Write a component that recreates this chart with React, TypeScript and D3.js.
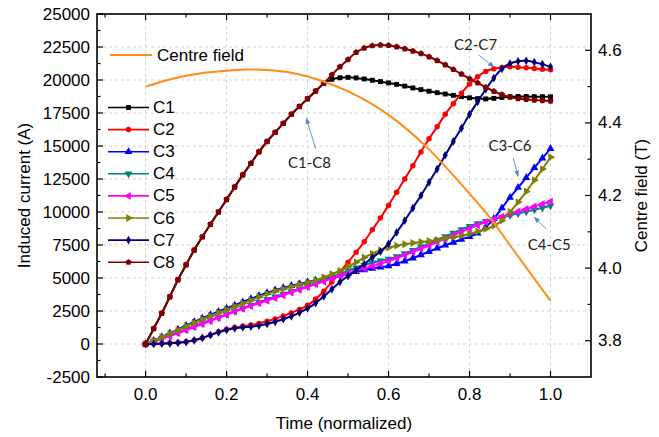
import React from 'react';
import * as d3 from 'd3';

// Sample times (normalized) for the coil currents
const time = [
  0, 0.02, 0.04, 0.06, 0.08, 0.1, 0.12, 0.14, 0.16, 0.18,
  0.2, 0.22, 0.24, 0.26, 0.28, 0.3, 0.32, 0.34, 0.36, 0.38,
  0.4, 0.42, 0.44, 0.46, 0.48, 0.5, 0.52, 0.54, 0.56, 0.58,
  0.6, 0.62, 0.64, 0.66, 0.68, 0.7, 0.72, 0.74, 0.76, 0.78,
  0.8, 0.82, 0.84, 0.86, 0.88, 0.9, 0.92, 0.94, 0.96, 0.98, 1.0,
];

// Induced current per coil (A)
const c1 = [
  0, 1160, 2330, 3580, 4870, 6000, 7110, 8110, 9060, 10000,
  10940, 11890, 12810, 13680, 14560, 15340, 16030, 16710, 17400, 17990,
  18580, 19160, 19740, 20050, 20170, 20200, 20160, 20080, 19980, 19880,
  19780, 19670, 19540, 19400, 19270, 19150, 19040, 18940, 18840, 18740,
  18650, 18590, 18570, 18610, 18680, 18730, 18750, 18750, 18740, 18740, 18730,
];
const c2 = [
  0, 20, 40, 70, 110, 170, 280, 450, 680, 920,
  1120, 1250, 1350, 1440, 1560, 1720, 1900, 2120, 2350, 2620,
  2930, 3400, 4000, 4700, 5450, 6200, 6950, 7750, 8650, 9550,
  10500, 11500, 12500, 13500, 14550, 15550, 16450, 17400, 18200, 19000,
  19700, 20250, 20650, 20850, 20950, 21000, 20970, 20920, 20870, 20820, 20780,
];
const c3 = [
  0, 260, 540, 820, 1110, 1400, 1680, 1950, 2210, 2460,
  2700, 2940, 3180, 3420, 3650, 3880, 4080, 4260, 4420, 4560,
  4700, 4830, 4950, 5080, 5220, 5350, 5480, 5600, 5720, 5820,
  5920, 6080, 6280, 6500, 6750, 7000, 7250, 7480, 7700, 7920,
  8130, 8400, 8850, 9500, 10300, 11100, 11850, 12600, 13350, 14080, 14800,
];
const c4 = [
  0, 200, 420, 640, 870, 1100, 1330, 1560, 1790, 2020,
  2250, 2480, 2710, 2940, 3170, 3380, 3580, 3780, 3980, 4180,
  4380, 4600, 4820, 5050, 5300, 5550, 5780, 5980, 6150, 6300,
  6430, 6620, 6850, 7100, 7370, 7620, 7880, 8140, 8400, 8670,
  8920, 9130, 9300, 9450, 9600, 9750, 9890, 10030, 10170, 10320, 10480,
];
const c5 = [
  0, 190, 390, 600, 820, 1050, 1280, 1510, 1740, 1980,
  2220, 2450, 2670, 2880, 3080, 3280, 3480, 3690, 3900, 4110,
  4320, 4530, 4740, 4950, 5150, 5350, 5550, 5730, 5900, 6080,
  6280, 6500, 6730, 6970, 7210, 7460, 7720, 7980, 8240, 8500,
  8750, 9000, 9230, 9450, 9650, 9850, 10040, 10230, 10420, 10610, 10800,
];
const c6 = [
  0, 250, 520, 790, 1070, 1350, 1620, 1880, 2130, 2370,
  2600, 2840, 3080, 3320, 3560, 3800, 4000, 4180, 4350, 4500,
  4650, 4830, 5050, 5300, 5550, 5850, 6200, 6550, 6850, 7100,
  7300, 7450, 7560, 7650, 7730, 7800, 7880, 7970, 8080, 8200,
  8350, 8520, 8720, 8950, 9350, 10000, 10750, 11550, 12400, 13250, 14150,
];
const c7 = [
  0, 0, 20, 50, 90, 150, 280, 460, 680, 880,
  1060, 1190, 1260, 1310, 1400, 1520, 1680, 1880, 2100, 2380,
  2700, 3100, 3600, 4150, 4700, 5150, 5600, 6050, 6550, 7000,
  7600, 8450, 9350, 10300, 11250, 12250, 13250, 14300, 15350, 16350,
  17400, 18350, 19300, 20150, 20850, 21250, 21420, 21450, 21350, 21200, 21000,
];
const c8 = [
  0, 1160, 2330, 3580, 4870, 6000, 7110, 8110, 9060, 10000,
  10940, 11890, 12810, 13680, 14560, 15340, 16030, 16710, 17400, 17990,
  18580, 19160, 19740, 20400, 21000, 21550, 22100, 22420, 22600, 22650,
  22620, 22520, 22370, 22200, 22000, 21760, 21470, 21150, 20800, 20450,
  20100, 19780, 19450, 19150, 18900, 18700, 18600, 18530, 18480, 18440, 18400,
];

// Centre field (T) on the right axis
const fieldTime = [
  0, 0.05, 0.1, 0.15, 0.2, 0.25, 0.3, 0.35, 0.4, 0.45, 0.5,
  0.55, 0.6, 0.65, 0.7, 0.75, 0.8, 0.85, 0.9, 0.95, 1.0,
];
const centreField = [
  4.5, 4.517, 4.53, 4.539, 4.544, 4.547, 4.546, 4.54, 4.528, 4.51, 4.487,
  4.458, 4.422, 4.378, 4.327, 4.268, 4.205, 4.14, 4.063, 3.986, 3.91,
];

const seriesNames = ['C1', 'C2', 'C3', 'C4', 'C5', 'C6', 'C7', 'C8'];
const seriesValues = [c1, c2, c3, c4, c5, c6, c7, c8];
const seriesColors = ['#000000', '#ff0000', '#0000ff', '#008080', '#ff00ff', '#808000', '#000080', '#800000'];
const seriesMarkers = ['square', 'circle', 'up', 'down', 'left', 'right', 'diamond', 'pentagon'];

const leftTicks = [-2500, 0, 2500, 5000, 7500, 10000, 12500, 15000, 17500, 20000, 22500, 25000];
const leftMinor = [-1250, 1250, 3750, 6250, 8750, 11250, 13750, 16250, 18750, 21250, 23750];
const rightTicks = [3.8, 4.0, 4.2, 4.4, 4.6];
const rightMinor = [3.9, 4.1, 4.3, 4.5];
const xTicks = [0, 0.2, 0.4, 0.6, 0.8, 1.0];
const xMinor = [-0.1, 0.1, 0.3, 0.5, 0.7, 0.9];

const annotations = [
  { text: 'C1-C8', tx: 0.405, ty: 13800, ax0: 0.42, ay0: 14800, ax1: 0.397, ay1: 17100 },
  { text: 'C2-C7', tx: 0.815, ty: 22750, ax0: 0.822, ay0: 21900, ax1: 0.86, ay1: 21000 },
  { text: 'C3-C6', tx: 0.9, ty: 15100, ax0: 0.908, ay0: 14100, ax1: 0.92, ay1: 12700 },
  { text: 'C4-C5', tx: 0.997, ty: 7600, ax0: 0.99, ay0: 8700, ax1: 0.96, ay1: 9600 },
];

const W = 659;
const H = 437;
const left = 97;
const right = 591;
const top = 14;
const bottom = 377;

const pentagon = {
  draw(ctx: any, size: number) {
    const r = Math.sqrt(size / 2.38);
    for (let i = 0; i < 5; i++) {
      const a = -Math.PI / 2 + (i * 2 * Math.PI) / 5;
      const px = r * Math.cos(a);
      const py = r * Math.sin(a);
      if (i === 0) ctx.moveTo(px, py);
      else ctx.lineTo(px, py);
    }
    ctx.closePath();
  },
};

function markerPath(kind: string): { d: string; rot: number } {
  const s = d3.symbol();
  switch (kind) {
    case 'square':
      return { d: s.type(d3.symbolSquare).size(24)() as string, rot: 0 };
    case 'circle':
      return { d: s.type(d3.symbolCircle).size(24)() as string, rot: 0 };
    case 'up':
      return { d: s.type(d3.symbolTriangle).size(27)() as string, rot: 0 };
    case 'down':
      return { d: s.type(d3.symbolTriangle).size(27)() as string, rot: 180 };
    case 'left':
      return { d: s.type(d3.symbolTriangle).size(27)() as string, rot: -90 };
    case 'right':
      return { d: s.type(d3.symbolTriangle).size(27)() as string, rot: 90 };
    case 'diamond':
      return { d: s.type(d3.symbolDiamond).size(22)() as string, rot: 0 };
    default:
      return { d: s.type(pentagon as any).size(26)() as string, rot: 0 };
  }
}

export default function App() {
  const x = d3.scaleLinear().domain([-0.12, 1.1]).range([left, right]);
  const yL = d3.scaleLinear().domain([-2500, 25000]).range([bottom, top]);
  const yR = d3.scaleLinear().domain([3.7, 4.7]).range([bottom, top]);

  const line = d3
    .line<number>()
    .x((_, i) => x(time[i]))
    .y((v) => yL(v))
    .curve(d3.curveCatmullRom);

  const fieldLine = d3
    .line<number>()
    .x((_, i) => x(fieldTime[i]))
    .y((v) => yR(v))
    .curve(d3.curveMonotoneX);

  const font = '"Liberation Sans", Arial, sans-serif';
  const annFont = 'Lato, "Open Sans", sans-serif';
  const fs = 17;
  const arrowColor = '#5b88cc';

  return (
    <svg width={W} height={H} style={{ position: 'absolute', left: 0, top: 0, background: '#fff' }}>
      <defs>
        <marker id="ah" viewBox="0 0 10 10" refX="9" refY="5" markerWidth="7" markerHeight="7" orient="auto-start-reverse">
          <path d="M0,1 L10,5 L0,9 z" fill={arrowColor} />
        </marker>
        <clipPath id="plot">
          <rect x={left} y={top} width={right - left} height={bottom - top} />
        </clipPath>
      </defs>
      <rect x={0} y={0} width={W} height={H} fill="#fff" />

      {/* grid */}
      <g stroke="#c8c8c8" strokeWidth={0.8} strokeDasharray="3,3">
        {leftTicks.filter((v) => v > -2500 && v < 25000).map((v) => (
          <line key={'gh' + v} x1={left} x2={right} y1={yL(v)} y2={yL(v)} />
        ))}
        {xTicks.map((v) => (
          <line key={'gv' + v} x1={x(v)} x2={x(v)} y1={top} y2={bottom} />
        ))}
      </g>

      {/* coil currents */}
      <g clipPath="url(#plot)">
        {seriesValues.map((vals, si) => {
          const m = markerPath(seriesMarkers[si]);
          return (
            <g key={seriesNames[si]}>
              <path d={line(vals) || ''} fill="none" stroke={seriesColors[si]} strokeWidth={2} />
              {vals.map((v, i) => (
                <path
                  key={i}
                  d={m.d}
                  fill={seriesColors[si]}
                  transform={`translate(${x(time[i])},${yL(v)}) rotate(${m.rot})`}
                />
              ))}
            </g>
          );
        })}
        <path d={fieldLine(centreField) || ''} fill="none" stroke="#ff8c1a" strokeWidth={2} />
      </g>

      {/* frame */}
      <rect x={left} y={top} width={right - left} height={bottom - top} fill="none" stroke="#000" strokeWidth={1.6} />

      {/* axis ticks */}
      <g stroke="#000" strokeWidth={1.2}>
        {leftTicks.map((v) => (
          <line key={'lt' + v} x1={left} x2={left + 6} y1={yL(v)} y2={yL(v)} />
        ))}
        {leftMinor.map((v) => (
          <line key={'lm' + v} x1={left} x2={left + 3.5} y1={yL(v)} y2={yL(v)} />
        ))}
        {rightTicks.map((v) => (
          <line key={'rt' + v} x1={right} x2={right - 6} y1={yR(v)} y2={yR(v)} />
        ))}
        {rightMinor.map((v) => (
          <line key={'rm' + v} x1={right} x2={right - 3.5} y1={yR(v)} y2={yR(v)} />
        ))}
        {xTicks.map((v) => (
          <g key={'xt' + v}>
            <line x1={x(v)} x2={x(v)} y1={bottom} y2={bottom - 6} />
            <line x1={x(v)} x2={x(v)} y1={top} y2={top + 6} />
          </g>
        ))}
        {xMinor.map((v) => (
          <g key={'xm' + v}>
            <line x1={x(v)} x2={x(v)} y1={bottom} y2={bottom - 3.5} />
            <line x1={x(v)} x2={x(v)} y1={top} y2={top + 3.5} />
          </g>
        ))}
      </g>

      {/* tick labels */}
      <g fontFamily={font} fontSize={fs} fill="#000">
        {leftTicks.map((v) => (
          <text key={'ll' + v} x={left - 7} y={yL(v)} textAnchor="end" dominantBaseline="central">
            {String(v)}
          </text>
        ))}
        {rightTicks.map((v) => (
          <text key={'rl' + v} x={right + 7} y={yR(v)} textAnchor="start" dominantBaseline="central">
            {v.toFixed(1)}
          </text>
        ))}
        {xTicks.map((v) => (
          <text key={'xl' + v} x={x(v)} y={bottom + 17} textAnchor="middle" dominantBaseline="central">
            {v.toFixed(1)}
          </text>
        ))}
      </g>

      {/* axis titles */}
      <g fontFamily={font} fontSize={fs} fill="#000">
        <text x={(left + right) / 2} y={bottom + 46} textAnchor="middle" dominantBaseline="central">
          Time (normalized)
        </text>
        <text transform={`translate(24,${(top + bottom) / 2}) rotate(-90)`} textAnchor="middle" dominantBaseline="central">
          Induced current (A)
        </text>
        <text transform={`translate(641,${(top + bottom) / 2}) rotate(-90)`} textAnchor="middle" dominantBaseline="central">
          Centre field (T)
        </text>
      </g>

      {/* legend */}
      <g fontFamily={font} fontSize={fs}>
        <line x1={110} x2={152} y1={55} y2={55} stroke="#ff8c1a" strokeWidth={2} />
        <text x={157} y={55} dominantBaseline="central">Centre field</text>
        {seriesNames.map((name, i) => {
          const ly = 107.5 + i * 22.1;
          const m = markerPath(seriesMarkers[i]);
          return (
            <g key={'lg' + name}>
              <line x1={108} x2={149} y1={ly} y2={ly} stroke={seriesColors[i]} strokeWidth={1.6} />
              <path d={m.d} fill={seriesColors[i]} transform={`translate(128.5,${ly}) rotate(${m.rot})`} />
              <text x={153} y={ly} dominantBaseline="central">{name}</text>
            </g>
          );
        })}
      </g>

      {/* annotations */}
      <g fontFamily={annFont} fontSize={15} fill="#222">
        {annotations.map((a) => (
          <g key={a.text}>
            <text x={x(a.tx)} y={yL(a.ty)} textAnchor="middle" dominantBaseline="central">{a.text}</text>
            <line
              x1={x(a.ax0)}
              y1={yL(a.ay0)}
              x2={x(a.ax1)}
              y2={yL(a.ay1)}
              stroke={arrowColor}
              strokeWidth={0.9}
              markerEnd="url(#ah)"
            />
          </g>
        ))}
      </g>
    </svg>
  );
}
